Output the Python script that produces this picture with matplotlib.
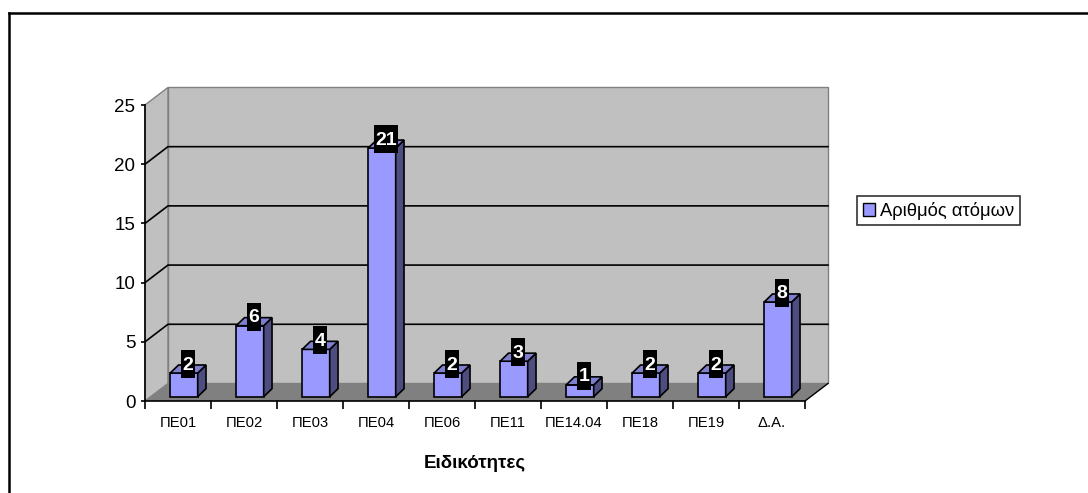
import numpy as np
import matplotlib.pyplot as plt
from matplotlib.patches import Polygon, Patch, Rectangle
from matplotlib.lines import Line2D
from matplotlib.path import Path

plt.rcParams['font.family'] = ['Liberation Sans', 'DejaVu Sans']

categories = ["ΠΕ01", "ΠΕ02", "ΠΕ03", "ΠΕ04", "ΠΕ06", "ΠΕ11", "ΠΕ14.04", "ΠΕ18", "ΠΕ19", "Δ.Α."]
values = [2, 6, 4, 21, 2, 3, 1, 2, 2, 8]
series_name = "Αριθμός ατόμων"
x_title = "Ειδικότητες"
y_ticks = [0, 5, 10, 15, 20, 25]

front_col = "#9999ff"
side_col = "#4d4d80"
top_col = "#7f7fcf"
wall_col = "#c0c0c0"
floor_col = "#808080"

# depth of the wall/floor, bar placement and bar depth in data units
DX, DY = 0.348, 1.48
FX, FY = 0.09, 0.36
W = 0.417
BDX, BDY = 0.126, 0.68

W_PX, H_PX = 1088, 493
fig = plt.figure(figsize=(W_PX / 100, H_PX / 100), dpi=100)
ax = fig.add_axes([145 / W_PX, (H_PX - 401) / H_PX, 660 / W_PX, 296 / H_PX])
ax.set_xlim(-0.5, 9.5)
ax.set_ylim(0, 25)
ax.patch.set_visible(False)

n = len(categories)
x0, x1 = -0.5, n - 0.5
ytop = y_ticks[-1]

# walls and floor
ax.add_patch(Rectangle((x0 + DX, DY), n, ytop, facecolor=wall_col, edgecolor="#808080",
                       lw=1, clip_on=False, zorder=0))
ax.add_patch(Polygon([(x0, 0), (x0 + DX, DY), (x0 + DX, ytop + DY), (x0, ytop)],
                     facecolor=wall_col, edgecolor="#808080", lw=1, clip_on=False, zorder=0))
ax.add_patch(Polygon([(x0, 0), (x1, 0), (x1 + DX, DY), (x0 + DX, DY)],
                     facecolor=floor_col, edgecolor="none", clip_on=False, zorder=0.5))
ax.plot([x1, x1 + DX], [0, DY], color="black", lw=1, clip_on=False, zorder=0.6)

for v in y_ticks[1:-1]:
    ax.plot([x0, x0 + DX, x1 + DX], [v, v + DY, v + DY], color="black", lw=1.2,
            clip_on=False, zorder=0.4)

# label box: tight on the sides, taller above and below the digits
def label_box(x, y, w, h, m):
    px, pt, pb = 0.07 * m, 0.34 * m, 0.24 * m
    xa, xb, ya, yb = x - px, x + w + px, y - pb, y + h + pt
    return Path([(xa, ya), (xb, ya), (xb, yb), (xa, yb), (xa, ya)], closed=True)

xs = np.arange(n)
ax.bar(xs + FX, values, width=W, bottom=FY, color=front_col, edgecolor="black",
       lw=1.2, zorder=2)
for xi, v in zip(xs, values):
    l, r = xi + FX - W / 2, xi + FX + W / 2
    t = v + FY
    ax.add_patch(Polygon([(r, FY), (r + BDX, FY + BDY), (r + BDX, t + BDY), (r, t)],
                         facecolor=side_col, edgecolor="black", lw=1.2, zorder=2, clip_on=False))
    ax.add_patch(Polygon([(l, t), (r, t), (r + BDX, t + BDY), (l + BDX, t + BDY)],
                         facecolor=top_col, edgecolor="black", lw=1.2, zorder=2, clip_on=False))
    ax.text(xi + FX + BDX / 2, t + BDY, str(v), ha="center", va="center",
            color="white", fontsize=14, fontweight="bold", zorder=5,
            bbox=dict(boxstyle=label_box, facecolor="black", edgecolor="none"))

# axes
for s in ["top", "right"]:
    ax.spines[s].set_visible(False)
ax.spines["left"].set_linewidth(1.2)
ax.spines["bottom"].set_linewidth(1.2)
ax.set_yticks(y_ticks)
ax.tick_params(axis="y", length=3, width=1.2, pad=4, labelsize=13.5)
ax.set_xticks(xs)
ax.set_xticklabels(categories)
ax.set_xticks(np.arange(n + 1) - 0.5, minor=True)
ax.tick_params(axis="x", which="major", length=0, pad=11, labelsize=10.6)
ax.tick_params(axis="x", which="minor", length=6, width=1.2)
ax.set_xlabel(x_title, fontsize=13.5, fontweight="bold", labelpad=18)

leg = ax.legend(handles=[Patch(facecolor=front_col, edgecolor="black", lw=1, label=series_name)],
                loc="center left", bbox_to_anchor=(857 / W_PX, 1 - 210.5 / H_PX),
                bbox_transform=fig.transFigure, fontsize=13.2, frameon=True, fancybox=False,
                handlelength=0.7, handleheight=0.7, handletextpad=0.25, borderpad=0.3,
                borderaxespad=0)
leg.get_frame().set_edgecolor("black")
leg.get_frame().set_linewidth(1.2)

# outer chart frame (top and left edges fall inside the image)
fx, fy = 9 / W_PX, 1 - 13 / H_PX
fig.add_artist(Line2D([fx, 1.01], [fy, fy], color="black", lw=1.8, transform=fig.transFigure))
fig.add_artist(Line2D([fx, fx], [fy, -0.01], color="black", lw=1.8, transform=fig.transFigure))

fig.savefig("out.png", dpi=100)
